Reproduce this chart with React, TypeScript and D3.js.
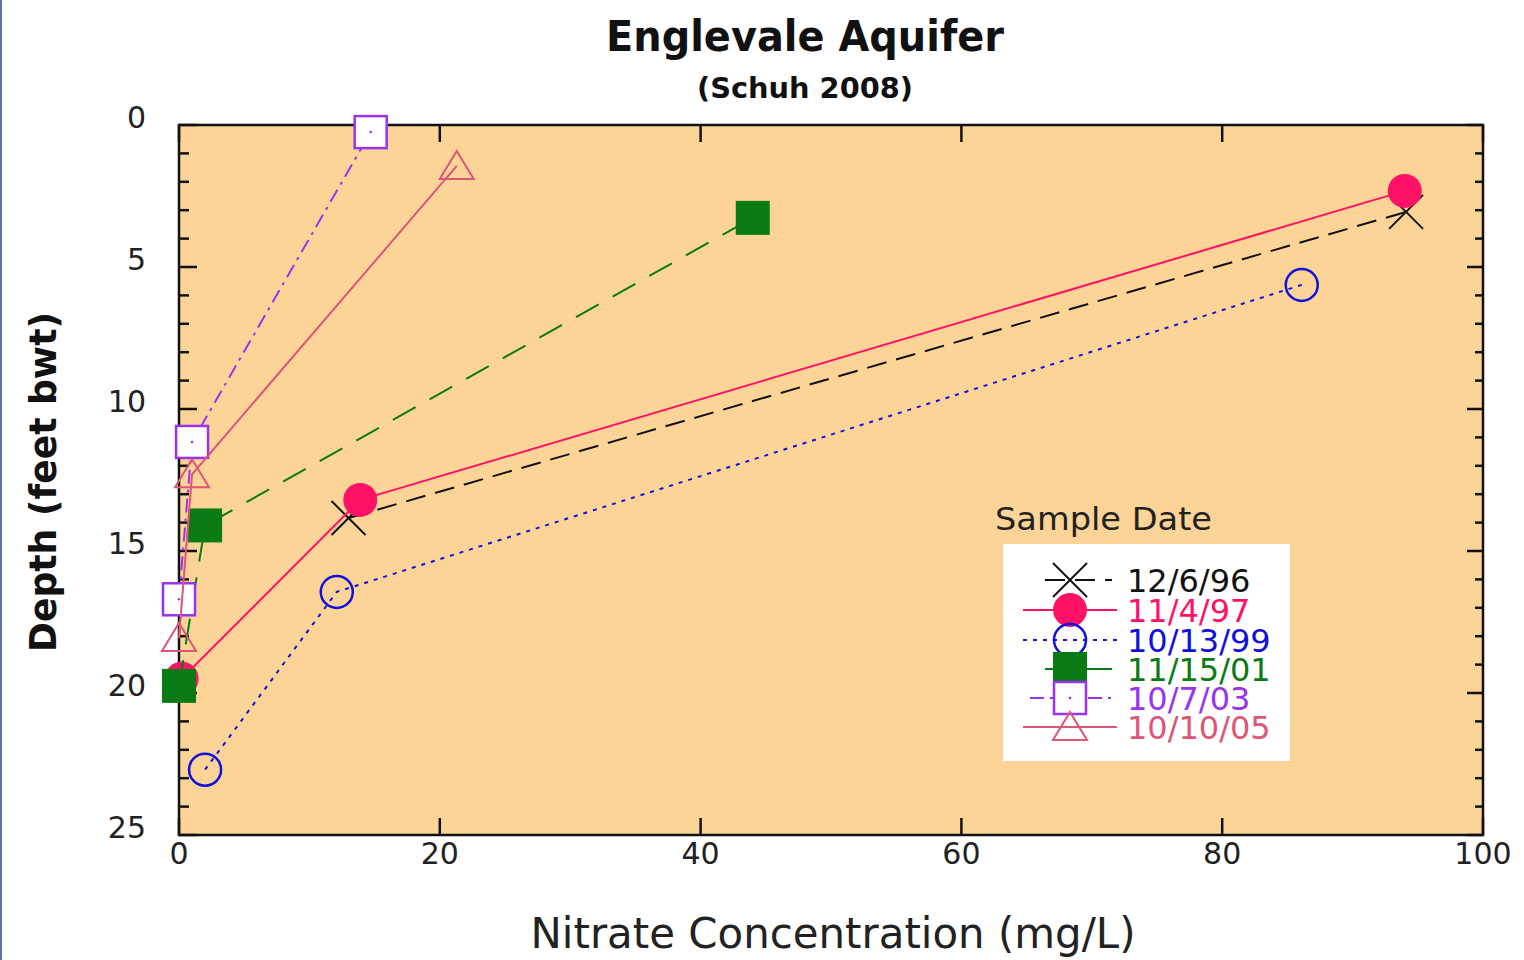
import React from 'react';
import * as d3 from 'd3';

const seriesNames = ['12/6/96', '11/4/97', '10/13/99', '11/15/01', '10/7/03', '10/10/05'];
const seriesColors = ['#111111', '#FF1166', '#1010DD', '#0A7A14', '#9933EE', '#DD5577'];
const seriesMarkers = ['x', 'filledCircle', 'openCircle', 'filledSquare', 'openSquare', 'triangle'];
const seriesDash = ['20,10', '', '4,6', '26,16', '14,6,3,6', ''];

const nitrate96 = [13.0, 94.1];
const depth96 = [13.84, 3.06];
const nitrate97 = [0.2, 13.9, 94.0];
const depth97 = [19.5, 13.2, 2.32];
const nitrate99 = [2.0, 12.1, 86.1];
const depth99 = [22.7, 16.44, 5.63];
const nitrate01 = [0.0, 2.0, 44.0];
const depth01 = [19.75, 14.1, 3.27];
const nitrate03 = [0.0, 1.0, 14.7];
const depth03 = [16.7, 11.16, 0.25];
const nitrate05 = [0.0, 1.0, 21.3];
const depth05 = [18.06, 12.3, 1.44];

const nitrateSets = [nitrate96, nitrate97, nitrate99, nitrate01, nitrate03, nitrate05];
const depthSets = [depth96, depth97, depth99, depth01, depth03, depth05];

const xTicks = [0, 20, 40, 60, 80, 100];
const yTicks = [0, 5, 10, 15, 20, 25];
const yMinorTicks = d3.range(0, 26, 1);

const W = 1524;
const H = 960;
const M = { left: 179, right: 1483, top: 125, bottom: 835 };
const FONT = '"DejaVu Sans", Verdana, sans-serif';

function Marker({ type, x, y, color }: { type: string; x: number; y: number; color: string }) {
  const s = 17;
  if (type === 'x') {
    return (
      <g stroke={color} strokeWidth={2}>
        <line x1={x - s} y1={y - s} x2={x + s} y2={y + s} />
        <line x1={x - s} y1={y + s} x2={x + s} y2={y - s} />
      </g>
    );
  }
  if (type === 'filledCircle') return <circle cx={x} cy={y} r={s} fill={color} />;
  if (type === 'openCircle')
    return <circle cx={x} cy={y} r={s - 1} fill="none" stroke={color} strokeWidth={2.5} />;
  if (type === 'filledSquare') return <rect x={x - s} y={y - s} width={2 * s} height={2 * s} fill={color} />;
  if (type === 'openSquare')
    return (
      <g>
        <rect x={x - s + 1} y={y - s + 1} width={2 * s - 2} height={2 * s - 2} fill="#ffffff" stroke={color} strokeWidth={2.5} />
        <circle cx={x} cy={y} r={1.3} fill={color} />
      </g>
    );
  const p = `M${x},${y - 15} L${x + 17},${y + 13} L${x - 17},${y + 13} Z`;
  return <path d={p} fill="none" stroke={color} strokeWidth={2} />;
}

export default function App() {
  const x = d3.scaleLinear().domain([0, 100]).range([M.left, M.right]);
  const y = d3.scaleLinear().domain([0, 25]).range([M.top, M.bottom]);
  const line = d3
    .line<[number, number]>()
    .x((d) => x(d[0]))
    .y((d) => y(d[1]));

  const legendRows = [580, 610, 640, 669, 698, 727];
  const legendLine: [number, number][] = [
    [1045, 1112],
    [1023, 1117],
    [1023, 1117],
    [1045, 1112],
    [1030, 1117],
    [1023, 1117],
  ];

  return (
    <svg width={W} height={H} style={{ position: 'absolute', left: 0, top: 0, background: '#fff' }}>
      <rect x={0} y={0} width={W} height={H} fill="#ffffff" />
      <rect x={0} y={0} width={2} height={H} fill="#6070A8" />
      <text x={805} y={51} textAnchor="middle" fontFamily={FONT} fontWeight="bold" fontSize={42} fill="#111"
        textLength={398} lengthAdjust="spacingAndGlyphs">
        Englevale Aquifer
      </text>
      <text x={805} y={98} textAnchor="middle" fontFamily={FONT} fontWeight="bold" fontSize={29} fill="#111"
        textLength={216} lengthAdjust="spacingAndGlyphs">
        (Schuh 2008)
      </text>

      <rect x={M.left} y={M.top} width={M.right - M.left} height={M.bottom - M.top} fill="#FDD497" />

      {yMinorTicks.map((t) => {
        const major = t % 5 === 0;
        return (
          <g key={'yt' + t} stroke="#111" strokeWidth={2.5}>
            <line x1={M.left} x2={M.left + (major ? 18 : 10)} y1={y(t)} y2={y(t)} />
            <line x1={M.right} x2={M.right - (major ? 16 : 8)} y1={y(t)} y2={y(t)} />
          </g>
        );
      })}
      {xTicks.map((t) => (
        <g key={'xt' + t} stroke="#111" strokeWidth={2.5}>
          <line x1={x(t)} x2={x(t)} y1={M.top} y2={M.top + 17} />
          <line x1={x(t)} x2={x(t)} y1={M.bottom} y2={M.bottom - 17} />
        </g>
      ))}
      <rect x={M.left} y={M.top} width={M.right - M.left} height={M.bottom - M.top} fill="none" stroke="#111" strokeWidth={2.5} />

      {yTicks.map((t) => (
        <text key={'yl' + t} x={146} y={y(t) - 8} dy="0.35em" textAnchor="end" fontFamily={FONT} fontSize={30} fill="#222">
          {t}
        </text>
      ))}
      {xTicks.map((t) => (
        <text key={'xl' + t} x={x(t)} y={853} dy="0.35em" textAnchor="middle" fontFamily={FONT} fontSize={30} fill="#222">
          {t}
        </text>
      ))}

      <text x={833} y={948} textAnchor="middle" fontFamily={FONT} fontSize={42} fill="#222"
        textLength={605} lengthAdjust="spacingAndGlyphs">
        Nitrate Concentration (mg/L)
      </text>
      <text
        transform={`translate(56,482) rotate(-90)`}
        textAnchor="middle"
        fontFamily={FONT}
        fontWeight="bold"
        fontSize={38}
        fill="#111"
        textLength={340}
        lengthAdjust="spacingAndGlyphs"
      >
        Depth (feet bwt)
      </text>

      {seriesNames.map((name, i) => {
        const pts: [number, number][] = nitrateSets[i].map((v, j) => [v, depthSets[i][j]]);
        return (
          <g key={name}>
            <path
              d={line(pts) || ''}
              fill="none"
              stroke={seriesColors[i]}
              strokeWidth={2}
              strokeDasharray={seriesDash[i] || undefined}
            />
            {pts.map((p, j) => (
              <Marker key={j} type={seriesMarkers[i]} x={x(p[0])} y={y(p[1])} color={seriesColors[i]} />
            ))}
          </g>
        );
      })}

      <text x={995} y={530} fontFamily={FONT} fontSize={32} fill="#222" textLength={217} lengthAdjust="spacingAndGlyphs">
        Sample Date
      </text>
      <rect x={1003} y={544} width={287} height={217} fill="#ffffff" />
      {seriesNames.map((name, i) => (
        <g key={'lg' + name}>
          <line
            x1={legendLine[i][0]}
            x2={legendLine[i][1]}
            y1={legendRows[i]}
            y2={legendRows[i]}
            stroke={seriesColors[i]}
            strokeWidth={2}
            strokeDasharray={seriesDash[i] || undefined}
          />
          <Marker type={seriesMarkers[i]} x={1070} y={legendRows[i]} color={seriesColors[i]} />
          <text x={1127} y={legendRows[i]} dy="0.36em" fontFamily={FONT} fontSize={32} fill={seriesColors[i]}>
            {name}
          </text>
        </g>
      ))}
    </svg>
  );
}
